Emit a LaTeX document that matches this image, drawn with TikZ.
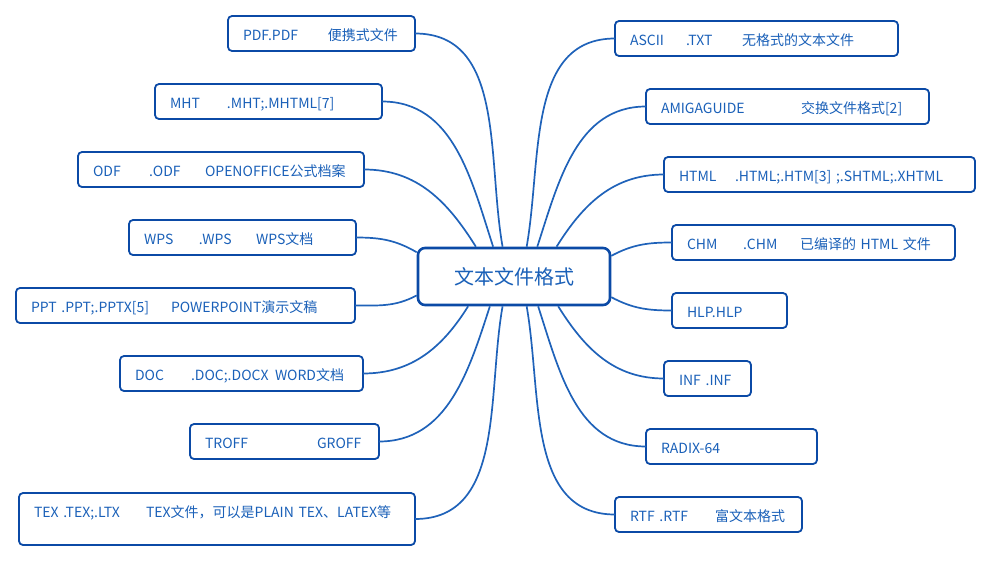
\documentclass[tikz,border=0pt]{standalone}
\usepackage{fontspec}
\setmainfont{Noto Sans CJK SC}
\definecolor{mapborder}{HTML}{0B4AA6}
\definecolor{mapline}{HTML}{1F62B9}
\definecolor{maptext}{HTML}{1A60B8}
\tikzstyle{rec} = [rectangle,draw=mapborder,line width=2.6pt,rounded corners=7pt,fill=white,text=maptext,minimum width=192pt,minimum height=57pt,font=\fontsize{20pt}{24pt}\selectfont]

\begin{document}
\begin{tikzpicture}
		[
		x=1pt,y=-1pt,
		branch/.style={
		draw=mapborder,
		line width=1.8pt,
		rectangle,
		rounded corners=4pt,
		anchor=north west,
		outer sep=0pt,
		align=left,
		text=maptext,
		inner xsep=15pt,
		inner ysep=11pt,
		text height=13pt,
		text depth=0pt,
		font=\fontsize{14pt}{16pt}\selectfont},
		link/.style={draw=mapline,line width=1.7pt}
		]
		\useasboundingbox (0,0) rectangle (992,562);
		\node[rec](ctr) at (514,276.5) {文本文件格式};
		% left side
		\node[branch,text width=157pt](pdf) at (228,16) {\makebox[85pt][l]{PDF.PDF}便携式文件};
		\node[branch,text width=197pt](mht) at (155,84) {\makebox[57pt][l]{MHT}.MHT;.MHTML[7]};
		\node[branch,text width=256pt](odf) at (78,152) {\makebox[56pt][l]{ODF}\makebox[56pt][l]{.ODF}OPENOFFICE公式档案};
		\node[branch,text width=197pt](wps) at (129,220) {\makebox[55pt][l]{WPS}\makebox[57pt][l]{.WPS}WPS文档};
		\node[branch,text width=309pt](ppt) at (16,288) {\makebox[140pt][l]{PPT .PPT;.PPTX[5]}POWERPOINT演示文稿};
		\node[branch,text width=213pt](doc) at (120,356) {\makebox[56pt][l]{DOC}\makebox[84pt][l]{.DOC;.DOCX}WORD文档};
		\node[branch,text width=159pt](troff) at (190,424) {\makebox[112pt][l]{TROFF}GROFF};
		\node[branch,text width=366pt,text depth=17pt](tex) at (19,493) {\makebox[112pt][l]{TEX .TEX;.LTX}TEX文件，可以是PLAIN TEX、LATEX等};
		% right side
		\node[branch,text width=253pt](ascii) at (615,21) {\makebox[56pt][l]{ASCII}\makebox[56pt][l]{.TXT}无格式的文本文件};
		\node[branch,text width=253pt](amiga) at (646,89) {\makebox[140pt][l]{AMIGAGUIDE}交换文件格式[2]};
		\node[branch,text width=281pt](html) at (664,157) {\makebox[56pt][l]{HTML}.HTML;.HTM[3] ;.SHTML;.XHTML};
		\node[branch,text width=253pt](chm) at (672,225) {\makebox[56pt][l]{CHM}\makebox[57pt][l]{.CHM}已编译的 HTML 文件};
		\node[branch,text width=85pt](hlp) at (672,293) {HLP.HLP};
		\node[branch,text width=57pt](inf) at (664,361) {INF .INF};
		\node[branch,text width=141pt](radix) at (646,429) {RADIX-64};
		\node[branch,text width=157pt](rtf) at (615,497) {\makebox[85pt][l]{RTF .RTF}富文本格式};
		% links
		\draw[link] (ctr.111) to[out=100,in=0] (pdf.east);
		\draw[link] (ctr.125) to[out=108,in=0] (mht.east);
		\draw[link] (ctr.142) to[out=122,in=0] (odf.east);
		\draw[link] (ctr.166.5) to[out=150,in=0] (wps.east);
		\draw[link] (ctr.191) to[out=208,in=0] (ppt.east);
		\draw[link] (ctr.213) to[out=238,in=0] (doc.east);
		\draw[link] (ctr.231) to[out=252,in=0] (troff.east);
		\draw[link] (ctr.249) to[out=260,in=0] (tex.east);
		\draw[link] (ctr.67) to[out=80,in=180] (ascii.west);
		\draw[link] (ctr.52) to[out=72,in=180] (amiga.west);
		\draw[link] (ctr.35) to[out=58,in=180] (html.west);
		\draw[link] (ctr.12) to[out=28,in=180] (chm.west);
		\draw[link] (ctr.348) to[out=332,in=180] (hlp.west);
		\draw[link] (ctr.326) to[out=302,in=180] (inf.west);
		\draw[link] (ctr.309) to[out=288,in=180] (radix.west);
		\draw[link] (ctr.293) to[out=280,in=180] (rtf.west);
\end{tikzpicture}
\end{document}
